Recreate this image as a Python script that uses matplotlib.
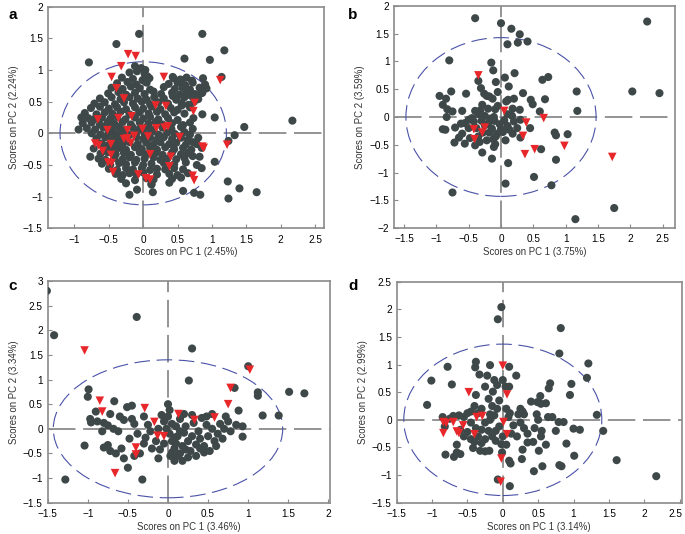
import matplotlib
matplotlib.use("Agg")
import matplotlib.pyplot as plt
from matplotlib.patches import Ellipse
from matplotlib.transforms import ScaledTranslation

#Scores (PC1, PC2)
a_gray = [
    (-0.06, 1.57), (-0.39, 1.41), (0.86, 1.57), (1.18, 1.31), (-0.79, 1.12), (0.60, 1.18), (0.97, 1.16),
    (2.17, 0.20), (1.47, 0.10), (1.33, -0.03), (1.24, -0.12), (1.04, -0.45), (1.23, -0.76), (1.40, -0.87),
    (1.65, -0.93), (1.24, -1.03), (-0.20, -0.97), (-0.09, -0.89), (0.14, -0.93), (0.83, -0.97), (0.74, -0.94),
    (0.58, -0.91), (0.12, -0.80), (-0.77, -0.37), (-0.94, 0.06), (-0.90, 0.25), (1.04, 0.25), (1.14, 0.89),
    (0.87, 0.87), (0.92, 0.71), (0.84, 0.63), (0.74, 0.50), (0.70, 0.59), (0.56, 0.44), (0.43, 0.59),
    (0.43, 0.89), (0.55, 0.84), (0.71, 0.83),
    (-0.12, 1.06), (-0.03, 1.03), (0.03, 1.00),
    (-0.20, 0.96), (-0.09, 0.98), (0.02, 0.94), (0.06, 0.90),
    (-0.31, 0.88), (-0.15, 0.86), (-0.01, 0.84), (0.09, 0.87), (0.44, 0.87), (0.54, 0.85), (0.63, 0.88),
    (-0.38, 0.79), (-0.23, 0.81), (-0.10, 0.77), (0.05, 0.80), (0.37, 0.78), (0.50, 0.80), (0.61, 0.76),
    (0.72, 0.80), (0.90, 0.77),
    (-0.46, 0.72), (-0.30, 0.70), (-0.18, 0.74), (-0.05, 0.71), (0.10, 0.69), (0.30, 0.73), (0.46, 0.70),
    (0.57, 0.72), (0.68, 0.69), (0.82, 0.72),
    (-0.51, 0.63), (-0.36, 0.65), (-0.25, 0.61), (-0.12, 0.64), (0.02, 0.62), (0.15, 0.66), (0.26, 0.62),
    (0.42, 0.64), (0.53, 0.61), (0.63, 0.65), (0.75, 0.62), (0.86, 0.64),
    (-0.63, 0.55), (-0.46, 0.57), (-0.33, 0.54), (-0.20, 0.57), (-0.08, 0.55), (0.05, 0.53), (0.16, 0.57),
    (0.30, 0.55), (0.48, 0.53), (0.60, 0.57), (0.80, 0.54),
    (-0.71, 0.47), (-0.56, 0.49), (-0.41, 0.46), (-0.28, 0.49), (-0.15, 0.47), (-0.02, 0.50), (0.10, 0.46),
    (0.22, 0.49), (0.36, 0.47), (0.56, 0.48), (0.66, 0.45),
    (-0.76, 0.40), (-0.63, 0.42), (-0.50, 0.39), (-0.38, 0.41), (-0.25, 0.38), (-0.12, 0.41), (0.00, 0.39),
    (0.12, 0.42), (0.25, 0.38), (0.40, 0.40), (0.50, 0.37), (0.68, 0.41),
    (-0.85, 0.32), (-0.68, 0.30), (-0.56, 0.33), (-0.45, 0.31), (-0.33, 0.34), (-0.20, 0.30), (-0.06, 0.33),
    (0.08, 0.31), (0.20, 0.34), (0.32, 0.30), (0.45, 0.33), (0.60, 0.31), (0.86, 0.30),
    (-0.80, 0.24), (-0.72, 0.22), (-0.60, 0.25), (-0.48, 0.23), (-0.38, 0.26), (-0.26, 0.22), (-0.12, 0.25),
    (0.00, 0.23), (0.10, 0.26), (0.22, 0.22), (0.36, 0.24), (0.50, 0.21), (0.73, 0.24),
    (-0.88, 0.16), (-0.75, 0.17), (-0.63, 0.14), (-0.52, 0.17), (-0.42, 0.15), (-0.30, 0.18), (-0.18, 0.14),
    (-0.05, 0.17), (0.08, 0.15), (0.18, 0.18), (0.28, 0.14), (0.42, 0.16), (0.58, 0.13), (0.68, 0.17),
    (-0.82, 0.08), (-0.70, 0.06), (-0.58, 0.09), (-0.46, 0.07), (-0.36, 0.10), (-0.27, 0.06), (-0.15, 0.09),
    (-0.05, 0.07), (0.05, 0.10), (0.15, 0.06), (0.28, 0.09), (0.41, 0.07), (0.55, 0.10), (0.72, 0.07),
    (-0.75, 0.00), (-0.62, -0.02), (-0.50, 0.01), (-0.40, -0.01), (-0.30, 0.02), (-0.20, -0.02), (-0.10, 0.01),
    (0.02, -0.01), (0.12, 0.02), (0.22, -0.02), (0.35, 0.01), (0.46, -0.01), (0.60, 0.02), (0.68, -0.02),
    (-0.68, -0.08), (-0.55, -0.06), (-0.45, -0.09), (-0.35, -0.07), (-0.25, -0.10), (-0.10, -0.06), (0.00, -0.09),
    (0.10, -0.07), (0.20, -0.10), (0.30, -0.06), (0.42, -0.09), (0.55, -0.07), (0.65, -0.10), (0.80, -0.07),
    (-0.60, -0.16), (-0.50, -0.18), (-0.40, -0.15), (-0.30, -0.17), (-0.20, -0.14), (-0.08, -0.17), (0.05, -0.15),
    (0.15, -0.18), (0.25, -0.14), (0.38, -0.17), (0.48, -0.15), (0.62, -0.18), (0.72, -0.14), (0.78, -0.17),
    (-0.72, -0.24), (-0.55, -0.22), (-0.45, -0.25), (-0.35, -0.23), (-0.25, -0.26), (-0.12, -0.22), (-0.02, -0.25),
    (0.10, -0.23), (0.20, -0.26), (0.32, -0.22), (0.45, -0.25), (0.58, -0.23), (0.70, -0.26), (0.85, -0.23),
    (-0.62, -0.32), (-0.52, -0.30), (-0.40, -0.33), (-0.28, -0.31), (-0.18, -0.34), (-0.05, -0.30), (0.05, -0.33),
    (0.18, -0.31), (0.28, -0.34), (0.42, -0.30), (0.55, -0.33), (0.65, -0.31), (0.72, -0.36), (0.82, -0.37),
    (-0.65, -0.40), (-0.55, -0.42), (-0.42, -0.39), (-0.30, -0.41), (-0.20, -0.38), (-0.10, -0.42), (0.02, -0.40),
    (0.15, -0.38), (0.25, -0.42), (0.35, -0.40), (0.48, -0.41), (0.60, -0.39),
    (-0.60, -0.48), (-0.48, -0.50), (-0.35, -0.47), (-0.25, -0.49), (-0.12, -0.46), (0.00, -0.50), (0.12, -0.48),
    (0.30, -0.47), (0.45, -0.49), (0.62, -0.46), (0.78, -0.50),
    (-0.50, -0.56), (-0.38, -0.58), (-0.25, -0.55), (-0.15, -0.57), (-0.02, -0.55), (0.10, -0.58), (0.20, -0.56),
    (0.32, -0.57), (0.45, -0.55), (0.58, -0.57), (0.85, -0.55),
    (-0.40, -0.64), (-0.30, -0.66), (-0.20, -0.63), (-0.10, -0.65), (0.00, -0.62), (0.20, -0.65), (0.38, -0.64),
    (0.50, -0.66), (0.65, -0.63),
    (-0.32, -0.72), (-0.12, -0.74), (0.05, -0.71), (0.15, -0.73), (0.42, -0.72), (0.55, -0.70),
    (-0.25, -0.79), (0.12, -0.81), (0.38, -0.78),
]
a_red = [
    (-0.22, 1.25), (-0.11, 1.22), (-0.32, 1.06), (-0.46, 0.89), (-0.39, 0.71), (-0.28, 0.55), (0.30, 0.89),
    (1.12, 0.84), (0.75, 0.48), (0.18, 0.44), (0.33, 0.43), (0.73, 0.35), (-0.66, 0.22), (-0.36, 0.24),
    (-0.17, 0.27), (-0.52, 0.05), (-0.23, 0.05), (-0.01, 0.07), (0.19, 0.08), (0.31, 0.09), (0.36, 0.11),
    (-0.70, -0.16), (-0.65, -0.19), (-0.59, -0.28), (-0.47, -0.17), (-0.28, -0.09), (-0.23, -0.08),
    (-0.13, -0.04), (-0.18, -0.15), (0.07, -0.05), (0.53, -0.06), (0.86, -0.21), (0.88, -0.23), (1.22, -0.18),
    (-0.47, -0.34), (0.10, -0.33), (0.40, -0.37), (0.38, -0.52), (-0.51, -0.46), (-0.46, -0.47),
    (-0.44, -0.61), (-0.07, -0.65), (0.04, -0.71), (0.10, -0.73), (0.72, -0.67), (0.74, -0.74),
]

b_gray = [
    (-0.40, 1.78), (0.00, 1.69), (0.16, 1.59), (0.29, 1.49), (0.10, 1.31), (0.26, 1.34), (0.41, 1.36),
    (2.26, 1.72), (-0.80, 1.02), (-0.15, 0.98), (-0.12, 0.84), (0.21, 0.79), (-0.35, 0.65), (0.06, 0.71),
    (-0.08, 0.63), (0.64, 0.67), (0.73, 0.72), (0.12, 0.55), (-0.31, 0.52), (-0.26, 0.42), (0.34, 0.43),
    (1.17, 0.46), (2.03, 0.46), (2.45, 0.43), (0.68, 0.32), (0.46, 0.31), (0.49, 0.23), (-0.95, 0.38),
    (-0.77, 0.46), (-0.54, 0.42), (-0.85, 0.33), (-0.90, 0.22), (-0.83, 0.14), (-0.84, 0.00), (-0.60, 0.11),
    (-0.40, 0.11), (-0.29, 0.22), (-0.18, 0.37), (-0.13, 0.33), (-0.09, 0.14), (-0.11, 0.00), (0.11, 0.31),
    (0.29, 0.13), (0.60, 0.10), (1.18, 0.11), (-0.22, 0.38), (0.08, 0.28), (-0.32, 0.12), (-0.20, 0.15),
    (-0.05, 0.20), (0.18, 0.15), (-0.75, 0.10), (-0.50, -0.05), (-0.25, 0.02), (-0.17, -0.03), (-0.35, 0.05),
    (-0.30, -0.07), (-0.42, -0.08), (-0.20, -0.12), (-0.10, -0.07), (-0.02, -0.13), (0.05, -0.06),
    (0.10, -0.16), (0.00, -0.22), (-0.14, -0.21), (-0.28, -0.28), (-0.18, -0.28), (-0.06, -0.30),
    (0.03, -0.27), (0.13, -0.23), (0.07, -0.42), (0.18, -0.30), (0.20, -0.08), (0.17, 0.02), (0.30, -0.05),
    (0.25, -0.20), (-0.50, -0.20), (-0.38, -0.20), (-0.35, -0.35), (-0.22, -0.42), (-0.12, -0.40),
    (-0.48, -0.38), (-0.60, -0.30), (-0.62, -0.12), (-0.33, -0.45), (-0.90, -0.22), (-0.86, -0.23),
    (-0.71, -0.19), (-0.56, -0.11), (-0.65, -0.37), (-0.72, -0.46), (-0.56, -0.48), (-0.40, -0.51),
    (-0.29, -0.64), (-0.14, -0.75), (-0.11, -0.54), (-0.09, -0.49), (0.11, -0.83), (0.83, -0.28),
    (0.85, -0.33), (1.03, -0.31), (0.62, -0.58), (0.85, -0.77), (0.51, -1.08), (0.07, -1.20), (0.78, -1.23),
    (-0.75, -1.36), (1.15, -1.84), (1.75, -1.64), (0.30, -0.37), (0.45, -0.20), (-0.05, 0.45),
    (0.20, 0.33), (-0.45, -0.02), (-0.08, -0.35), (0.10, 0.05), (-0.25, -0.15),
]
b_red = [
    (-0.35, 0.75), (0.05, 0.11), (0.66, -0.02), (0.39, -0.10), (-0.25, -0.19), (-0.42, -0.22), (-0.29, -0.28),
    (-0.41, -0.40), (0.34, -0.34), (0.52, -0.58), (0.98, -0.52), (0.37, -0.67), (1.72, -0.72),
]

c_gray = [
    (-1.51, 2.80), (-1.42, 1.90), (-0.39, 2.27), (0.30, 1.63), (0.26, 0.98), (1.00, 1.27), (1.12, 0.74),
    (1.12, 0.67), (1.51, 0.75), (1.70, 0.72), (1.38, 0.27), (1.18, 0.27), (0.83, 0.83), (0.88, 0.37),
    (0.93, 0.05), (0.93, -0.16), (-0.99, 0.80), (-1.00, 0.65), (-1.04, -0.34), (-1.28, -1.03), (-0.32, -1.03),
    (-0.50, -0.79), (-0.67, 0.56), (-0.51, 0.44), (-0.45, 0.47),
    (-0.97, 0.20), (-0.96, 0.13), (-0.90, 0.35), (-0.88, 0.15), (-0.80, 0.12), (-0.75, 0.07), (-0.72, 0.30),
    (-0.68, 0.00), (-0.62, -0.05), (-0.82, -0.05), (-0.80, -0.38), (-0.75, -0.33), (-0.72, -0.45),
    (-0.65, -0.50), (-0.58, -0.40), (-0.55, -0.60), (-0.55, 0.18), (-0.60, 0.25), (-0.45, 0.20),
    (-0.42, 0.10), (-0.38, -0.10), (-0.48, -0.20), (-0.42, -0.55), (-0.35, -0.50), (-0.30, -0.30),
    (-0.28, -0.18), (-0.30, 0.25), (-0.25, 0.08), (-0.22, -0.05), (-0.20, -0.40), (-0.15, -0.25),
    (-0.12, 0.00), (-0.10, -0.42), (-0.08, 0.28), (-0.05, 0.15), (-0.05, -0.30), (-0.12, -0.60),
    (0.00, 0.50), (0.02, 0.38), (0.00, 0.25), (0.05, 0.10), (0.02, -0.10), (0.05, -0.25), (0.08, -0.40),
    (0.03, -0.55), (0.10, -0.30), (0.12, -0.15), (0.15, -0.50), (0.18, -0.35), (0.20, -0.08), (0.22, 0.05),
    (0.25, -0.25), (0.28, -0.45), (0.30, -0.15), (0.32, 0.12), (0.35, -0.32), (0.38, -0.05), (0.40, -0.20),
    (0.42, 0.22), (0.45, -0.35), (0.48, 0.08), (0.50, -0.15), (0.52, -0.45), (0.55, 0.00), (0.55, 0.30),
    (0.58, -0.25), (0.62, -0.10), (0.65, 0.10), (0.68, -0.20), (0.70, 0.00), (0.72, 0.25), (0.75, 0.15),
    (0.78, -0.05), (0.12, -0.55), (0.18, -0.65), (0.08, -0.65), (0.20, 0.30), (0.15, 0.20), (0.60, -0.35),
    (0.45, -0.48), (0.35, -0.55), (0.25, -0.58), (0.10, 0.05), (-0.02, 0.00), (0.30, 0.28), (0.48, 0.25),
    (0.85, 0.08), (0.15, -0.05), (0.08, -0.18), (0.22, -0.42), (0.40, -0.40), (0.05, -0.48),
]
c_red = [
    (-1.04, 1.59), (-0.85, 0.57), (-0.82, 0.35), (-0.29, 0.42), (-0.17, 0.14), (0.13, 0.30), (0.33, 0.18),
    (0.58, 0.23), (0.75, 0.50), (0.78, 0.83), (1.02, 1.20), (-0.13, -0.14), (-0.05, -0.15), (-0.40, -0.38),
    (-0.40, -0.52), (-0.66, -0.90),
]

d_gray = [
    (-0.02, 2.04), (-0.07, 1.82), (0.82, 1.66), (0.80, 1.20), (1.21, 1.02), (1.19, 0.76), (1.33, 0.09),
    (1.42, -0.20), (1.61, -0.73), (2.17, -1.02), (-1.07, 0.27), (-1.01, 0.71), (-0.78, 0.96), (-0.72, 0.64),
    (-0.38, 1.05), (-0.39, 0.95), (-0.18, 0.99), (0.09, 0.96), (0.19, 0.80), (-0.33, 0.82), (-0.22, 0.80),
    (-0.12, 0.72), (-0.08, 0.63), (0.00, 0.72), (0.04, 0.60), (0.09, 0.60), (-0.14, 0.51), (-0.38, 0.45),
    (0.67, 0.66), (0.65, 0.57), (0.97, 0.65), (0.95, 0.45), (0.53, 0.43), (0.49, 0.32), (0.54, 0.29),
    (0.61, 0.30), (0.64, 0.05), (0.79, -0.04), (0.86, -0.04), (1.00, -0.16), (1.09, -0.18), (0.90, -0.43),
    (1.01, -0.65), (0.80, -0.82), (0.83, -0.84), (0.56, -0.84), (0.44, -0.93), (0.27, -0.71), (0.51, -0.56),
    (0.54, -0.30), (0.43, -0.40), (0.35, -0.41), (0.61, -0.45), (0.28, -0.54), (0.11, -0.79), (0.09, -0.74),
    (0.10, -1.20), (-0.07, -1.08), (-0.81, -0.63), (-0.69, -0.67), (-0.65, -0.59), (-0.60, -0.62),
    (-0.65, -0.45), (-0.42, -0.51), (-0.32, -0.56), (-0.25, -0.57), (-0.19, -0.56), (-0.02, -0.44),
    (-0.01, -0.59),
    (-0.85, 0.05), (-0.82, -0.12), (-0.75, 0.02), (-0.70, 0.07), (-0.62, 0.08), (-0.55, 0.05), (-0.50, 0.12),
    (-0.45, -0.05), (-0.50, -0.22), (-0.55, -0.30), (-0.60, -0.18), (-0.45, -0.35), (-0.40, -0.40),
    (-0.35, -0.30), (-0.30, -0.42), (-0.25, -0.35), (-0.30, -0.18), (-0.25, -0.05), (-0.20, -0.20),
    (-0.15, -0.30), (-0.18, 0.00), (-0.12, 0.08), (-0.05, -0.12), (-0.10, -0.20), (-0.08, 0.20),
    (-0.05, 0.35), (-0.15, 0.25), (-0.18, 0.10), (-0.20, 0.38), (-0.30, 0.20), (-0.35, 0.12), (-0.40, 0.25),
    (-0.45, 0.15), (-0.25, 0.60), (0.05, 0.20), (0.08, 0.05), (0.10, 0.12), (0.15, -0.10), (0.05, -0.45),
    (0.00, -0.30), (0.25, 0.20), (0.28, 0.15), (0.22, 0.10), (0.30, 0.10), (0.25, -0.05), (0.35, -0.25),
    (0.45, -0.15), (0.50, 0.00), (0.55, -0.20), (0.48, 0.10), (0.40, 0.33), (0.75, -0.20), (0.70, 0.05),
    (0.20, -0.30), (0.12, -0.25), (-0.38, -0.15), (-0.10, -0.38), (0.30, -0.15),
]
d_red = [
    (0.00, 0.98), (-0.48, 0.50), (0.06, 0.46), (-0.37, 0.05), (-0.29, 0.07), (-0.84, -0.04), (-0.80, -0.06),
    (-0.70, -0.04), (-0.56, -0.10), (-0.65, -0.21), (-0.62, -0.24), (-0.84, -0.24), (-0.40, -0.26),
    (0.01, -0.04), (0.06, -0.26), (-0.02, -0.70), (-0.03, -1.12),
]

panel_letters = ["a", "b", "c", "d"]
pc1_labels = ["Scores on PC 1 (2.45%)", "Scores on PC 1 (3.75%)", "Scores on PC 1 (3.46%)", "Scores on PC 1 (3.14%)"]
pc2_labels = ["Scores on PC 2 (2.24%)", "Scores on PC 2 (3.59%)", "Scores on PC 2 (3.34%)", "Scores on PC 2 (2.99%)"]
#95% ellipse half-widths (PC1, PC2)
ellipse_w = [1.21, 1.47, 1.43, 1.40]
ellipse_h = [1.13, 1.43, 1.40, 1.37]

#Panel layout / axis setup
boxes = [
    [0.0696, 0.5725, 0.4034, 0.4150],
    [0.5756, 0.5730, 0.4098, 0.4158],
    [0.0696, 0.0586, 0.4122, 0.4152],
    [0.5791, 0.0586, 0.4161, 0.4139],
]
xlims = [(-1.39, 2.63), (-1.65, 2.69), (-1.5, 2.02), (-1.5, 2.53)]
ylims = [(-1.5, 2.0), (-2.0, 2.0), (-1.5, 3.0), (-1.5, 2.5)]
xticks = [[-1, -0.5, 0, 0.5, 1, 1.5, 2, 2.5],
          [-1.5, -1, -0.5, 0, 0.5, 1, 1.5, 2, 2.5],
          [-1.5, -1, -0.5, 0, 0.5, 1, 1.5, 2],
          [-1.5, -1, -0.5, 0, 0.5, 1, 1.5, 2, 2.5]]
yticks = [[-1.5, -1, -0.5, 0, 0.5, 1, 1.5, 2],
          [-2, -1.5, -1, -0.5, 0, 0.5, 1, 1.5, 2],
          [-1.5, -1, -0.5, 0, 0.5, 1, 1.5, 2, 2.5, 3],
          [-1.5, -1, -0.5, 0, 0.5, 1, 1.5, 2, 2.5]]

GRAY = "#3f4848"
RED = "#e8272b"
BLUE = "#4a52a8"
FRAME = "#8a8a8a"

def fmt(v):
    s = ("%g" % v)
    return s.replace("-", "\u2212")

fig = plt.figure(figsize=(6.85, 5.34), dpi=100)
plt.rcParams["font.family"] = ["Liberation Sans", "DejaVu Sans"]

gray_sets = [a_gray, b_gray, c_gray, d_gray]
red_sets = [a_red, b_red, c_red, d_red]

for i in range(4):
    ax = fig.add_axes(boxes[i])
    ax.set_xlim(*xlims[i])
    ax.set_ylim(*ylims[i])

    #crosshair at origin
    ax.axhline(0, color="#777777", lw=1.1, dashes=(18, 5), zorder=1)
    ax.axvline(0, color="#777777", lw=1.1, dashes=(18, 5), zorder=1)

    ell = Ellipse((0, 0), 2 * ellipse_w[i], 2 * ellipse_h[i], fill=False,
                  edgecolor=BLUE, lw=0.8, linestyle=(0, (14, 6)), zorder=2)
    ax.add_patch(ell)

    gx, gy = zip(*gray_sets[i])
    rx, ry = zip(*red_sets[i])
    ax.scatter(gx, gy, s=34, color=GRAY, edgecolors="none", zorder=3)
    ax.scatter(rx, ry, s=38, marker="v", color=RED, edgecolors="none", zorder=4)

    ax.set_xticks(xticks[i])
    ax.set_yticks(yticks[i])
    ax.set_xticklabels([fmt(v) for v in xticks[i]])
    ax.set_yticklabels([fmt(v) for v in yticks[i]])
    ax.tick_params(direction="in", length=3, width=0.8, color=FRAME, labelsize=7.2)
    ax.tick_params(axis="x", pad=4.5)
    ax.tick_params(axis="y", pad=3.5)
    for sp in ax.spines.values():
        sp.set_color(FRAME)
        sp.set_linewidth(1.2)

    ax.set_xlabel(pc1_labels[i], fontsize=6.9, labelpad=2, color="#333333")
    ax.set_ylabel(pc2_labels[i], fontsize=6.9, labelpad=3, color="#333333")

    lx = 0.012 if i % 2 == 0 else 0.508
    ly = 0.985 if i < 2 else 0.478
    fig.text(lx, ly, panel_letters[i], fontsize=11, fontweight="bold", va="top", ha="left")

    #last tick on panel d sits at the figure edge, nudge it in
    if i == 3:
        lab = ax.get_xticklabels()[-1]
        lab.set_transform(lab.get_transform() + ScaledTranslation(-4 / 100, 0, fig.dpi_scale_trans))

plt.savefig("out.png", dpi=100)
plt.close()
